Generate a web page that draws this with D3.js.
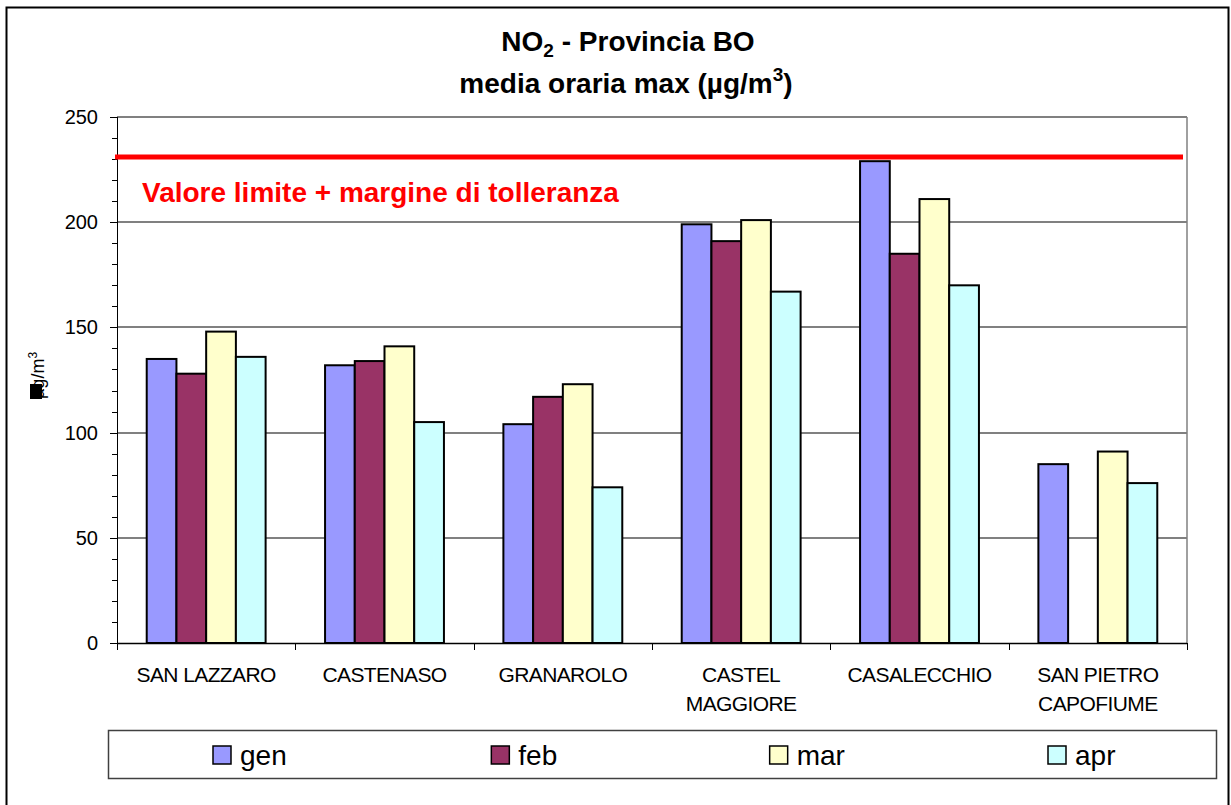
<!DOCTYPE html>
<meta charset="utf-8">
<style>
body { margin: 0; background: #fff; }
svg { font-family: "Liberation Sans", Arial, sans-serif; }
.grid line { stroke: #808080; stroke-width: 1.5px; shape-rendering: crispEdges; }
.axis path, .axis line { stroke: #000; shape-rendering: crispEdges; }
.ylab text { font-size: 20px; }
.xlab text { font-size: 21px; letter-spacing: -0.6px; }
.bar { stroke: #000; stroke-width: 2px; }
</style>
<body>
<svg id="chart" width="1231" height="805"></svg>
<script src="https://cdn.jsdelivr.net/npm/d3@7"></script>
<script>

var stations = ["SAN LAZZARO", "CASTENASO", "GRANAROLO", "CASTEL\nMAGGIORE", "CASALECCHIO", "SAN PIETRO\nCAPOFIUME"];
var months = ["gen", "feb", "mar", "apr"];
var colors = ["#9999ff", "#993366", "#ffffcc", "#ccffff"];

var gen = [135, 132, 104, 199, 229, 85];
var feb = [128, 134, 117, 191, 185, null];
var mar = [148, 141, 123, 201, 211, 91];
var apr = [136, 105, 74, 167, 170, 76];

var limitValue = 231;
var yTicks = [0, 50, 100, 150, 200, 250];

var series = [gen, feb, mar, apr];

var svg = d3.select("#chart");

// outer frame
svg.append("rect")
    .attr("x", 6.5).attr("y", 7.5)
    .attr("width", 1222).attr("height", 810)
    .attr("fill", "none").attr("stroke", "#000").attr("stroke-width", 2);

var pLeft = 117, pRight = 1187, pTop = 117, pBottom = 643;

var x = d3.scaleBand()
    .domain(stations)
    .range([pLeft, pRight])
    .paddingInner(0)
    .paddingOuter(0);

var bandW = x.bandwidth();
var barW = bandW / 6;   // gap width 200%

var xs = d3.scaleBand()
    .domain(months)
    .range([barW, barW * 5]);

var y = d3.scaleLinear()
    .domain([0, 250])
    .range([pBottom, pTop]);

// gridlines
svg.append("g").attr("class", "grid")
  .selectAll("line")
  .data(yTicks.slice(1))
  .enter().append("line")
    .attr("x1", pLeft).attr("x2", pRight)
    .attr("y1", function(d) { return Math.round(y(d)); })
    .attr("y2", function(d) { return Math.round(y(d)); });

// right border of plot area
svg.append("line")
    .attr("x1", pRight).attr("x2", pRight)
    .attr("y1", pTop).attr("y2", pBottom)
    .attr("stroke", "#808080").attr("stroke-width", 1.5);

// bars
months.forEach(function(m, i) {
  svg.append("g")
    .selectAll("rect")
    .data(stations.map(function(s, j) { return {s: s, v: series[i][j]}; })
                  .filter(function(d) { return d.v != null; }))
    .enter().append("rect")
      .attr("class", "bar")
      .attr("x", function(d) { return x(d.s) + xs(m); })
      .attr("width", xs.bandwidth())
      .attr("y", function(d) { return y(d.v); })
      .attr("height", function(d) { return y(0) - y(d.v); })
      .attr("fill", colors[i]);
});

// y axis
var yAxis = svg.append("g").attr("class", "axis ylab")
    .attr("transform", "translate(" + pLeft + ",0)")
    .call(d3.axisLeft(y).tickValues(yTicks).tickSize(7).tickPadding(12));
yAxis.select(".domain").attr("stroke-width", 1.5);
yAxis.selectAll("text").attr("fill", "#000");

// minor ticks
svg.append("g")
  .selectAll("line")
  .data(d3.range(10, 250, 10).filter(function(d) { return d % 50 != 0; }))
  .enter().append("line")
    .attr("x1", pLeft - 5).attr("x2", pLeft)
    .attr("y1", function(d) { return Math.round(y(d)) + 0.5; })
    .attr("y2", function(d) { return Math.round(y(d)) + 0.5; })
    .attr("stroke", "#000");

// x axis
svg.append("line")
    .attr("x1", pLeft).attr("x2", pRight)
    .attr("y1", pBottom + 0.5).attr("y2", pBottom + 0.5)
    .attr("stroke", "#000").attr("stroke-width", 1.5);

svg.append("g")
  .selectAll("line")
  .data(stations.map(function(s) { return x(s); }).concat([pRight]))
  .enter().append("line")
    .attr("x1", function(d) { return Math.round(d) + 0.5; })
    .attr("x2", function(d) { return Math.round(d) + 0.5; })
    .attr("y1", pBottom).attr("y2", pBottom + 7)
    .attr("stroke", "#000");

var xl = svg.append("g").attr("class", "xlab")
  .selectAll("text")
  .data(stations)
  .enter().append("text")
    .attr("text-anchor", "middle")
    .attr("fill", "#000");
xl.each(function(d) {
  var t = d3.select(this);
  d.split("\n").forEach(function(line, k) {
    t.append("tspan")
      .attr("x", x(d) + bandW / 2)
      .attr("y", 682 + k * 29)
      .text(line);
  });
});

// limit line
svg.append("line")
    .attr("x1", pLeft - 2).attr("x2", 1183)
    .attr("y1", y(limitValue)).attr("y2", y(limitValue))
    .attr("stroke", "#ff0000").attr("stroke-width", 5);

svg.append("text")
    .attr("x", 142).attr("y", 202)
    .attr("fill", "#ff0000")
    .attr("font-size", "28px")
    .attr("font-weight", "bold")
    .text("Valore limite + margine di tolleranza");

// title
var t1 = svg.append("text")
    .attr("x", 628).attr("y", 51)
    .attr("text-anchor", "middle")
    .attr("font-size", "28px").attr("font-weight", "bold");
t1.append("tspan").text("NO");
t1.append("tspan").attr("font-size", "19px").attr("dy", 6).text("2");
t1.append("tspan").attr("dy", -6).text(" - Provincia BO");

var t2 = svg.append("text")
    .attr("x", 626).attr("y", 93)
    .attr("text-anchor", "middle")
    .attr("font-size", "28px").attr("font-weight", "bold");
t2.append("tspan").text("media oraria max (\u00b5g/m");
t2.append("tspan").attr("font-size", "19px").attr("dy", -12).text("3");
t2.append("tspan").attr("dy", 12).text(")");

// y axis title (the mu renders as a black box in the original)
var yt = svg.append("g").attr("transform", "translate(44,399) rotate(-90)");
yt.append("rect").attr("x", 0).attr("y", -14).attr("width", 15).attr("height", 12).attr("fill", "#000");
var ytt = yt.append("text").attr("x", 0).attr("font-size", "18px").attr("fill", "#000");
ytt.append("tspan").text("\u00b5g/m");
ytt.append("tspan").attr("font-size", "12px").attr("dy", -7).text("3");

// legend
svg.append("rect")
    .attr("x", 108.5).attr("y", 730.5)
    .attr("width", 1108).attr("height", 48)
    .attr("fill", "none").attr("stroke", "#404040").attr("stroke-width", 1.5);

var legX = d3.scalePoint().domain(months).range([213, 1048]);

var leg = svg.append("g").selectAll("g")
  .data(months)
  .enter().append("g")
    .attr("transform", function(d) { return "translate(" + legX(d) + ",746)"; });
leg.append("rect")
    .attr("width", 18).attr("height", 18)
    .attr("fill", function(d, i) { return colors[i]; })
    .attr("stroke", "#000").attr("stroke-width", 1.5);
leg.append("text")
    .attr("x", 27).attr("y", 19)
    .attr("font-size", "28px")
    .text(function(d) { return d; });

</script>
</body>
